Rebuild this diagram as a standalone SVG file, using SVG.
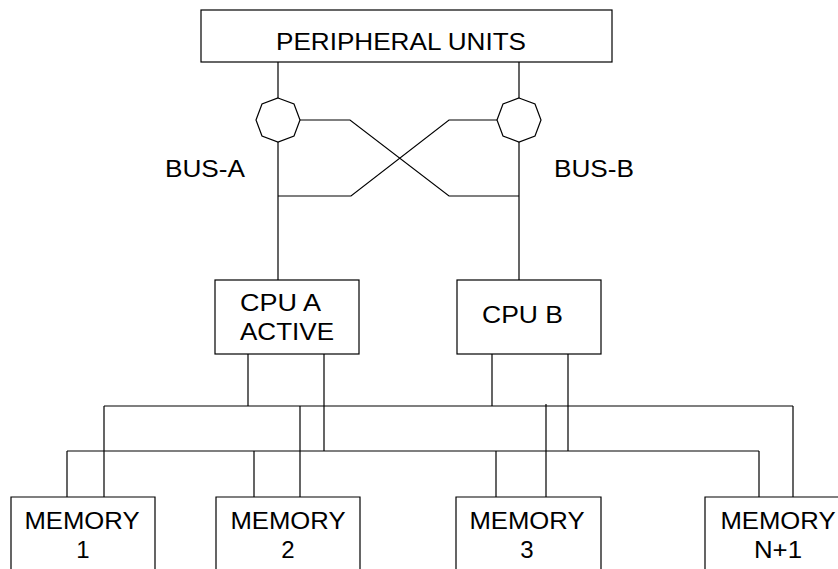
<svg xmlns="http://www.w3.org/2000/svg" width="838" height="569" viewBox="0 0 838 569">
<style>
.box{fill:#fff;stroke:#000;stroke-width:1.2}
.ln{fill:none;stroke:#000;stroke-width:1.2}
.t{font-family:"Liberation Sans",Arial,sans-serif;font-size:24px;fill:#000}
.m{text-anchor:middle}
</style>
<rect width="838" height="569" fill="#fff"/>
<g id="connectors" class="ln">
<path d="M278 62V98M278 142V280M519 62V98M519 142V280"/>
<path d="M300 120H350L449 196H519"/>
<path d="M497 120H449L351 196H278"/>
<path d="M104 406H793M67 451H759"/>
<path d="M248 354V406M324 354V451M492 354V406M568 354V451"/>
<path d="M67 451V497M104 406V497M254 451V497M300 406V497M496 451V497M546 404V497M759 451V497M793 406V497"/>
</g>
<g id="peripheral">
<rect class="box" x="201" y="10" width="411" height="52"/>
<text class="t" x="276" y="50" textLength="250" lengthAdjust="spacingAndGlyphs">PERIPHERAL UNITS</text>
</g>
<g id="switchA">
<polygon class="box" points="278,98 294,104 300,120 294,136 278,142 262,136 256,120 262,104"/>
</g>
<g id="switchB">
<polygon class="box" points="519,98 535,104 541,120 535,136 519,142 503,136 497,120 503,104"/>
</g>
<g id="busA"><text class="t" x="165" y="177" textLength="80" lengthAdjust="spacingAndGlyphs">BUS-A</text></g>
<g id="busB"><text class="t" x="554" y="177" textLength="80" lengthAdjust="spacingAndGlyphs">BUS-B</text></g>
<g id="cpuA">
<rect class="box" x="215" y="280" width="144" height="74"/>
<text class="t" x="240" y="311" textLength="81" lengthAdjust="spacingAndGlyphs">CPU A</text>
<text class="t" x="240" y="340" textLength="94" lengthAdjust="spacingAndGlyphs">ACTIVE</text>
</g>
<g id="cpuB">
<rect class="box" x="457" y="280" width="144" height="74"/>
<text class="t" x="482" y="323" textLength="81" lengthAdjust="spacingAndGlyphs">CPU B</text>
</g>
<g id="mem1">
<path class="box" d="M11 575V497H155V575"/>
<text class="t m" x="82" y="529" textLength="115" lengthAdjust="spacingAndGlyphs">MEMORY</text>
<text class="t m" x="83" y="558">1</text>
</g>
<g id="mem2">
<path class="box" d="M216 575V497H360V575"/>
<text class="t m" x="288" y="529" textLength="115" lengthAdjust="spacingAndGlyphs">MEMORY</text>
<text class="t m" x="288" y="558">2</text>
</g>
<g id="mem3">
<path class="box" d="M456 575V497H601V575"/>
<text class="t m" x="527" y="529" textLength="115" lengthAdjust="spacingAndGlyphs">MEMORY</text>
<text class="t m" x="527" y="558">3</text>
</g>
<g id="memN1">
<path class="box" d="M705 575V497H850V575"/>
<text class="t m" x="778" y="529" textLength="115" lengthAdjust="spacingAndGlyphs">MEMORY</text>
<text class="t m" x="778" y="558" textLength="48" lengthAdjust="spacingAndGlyphs">N+1</text>
</g>
</svg>
